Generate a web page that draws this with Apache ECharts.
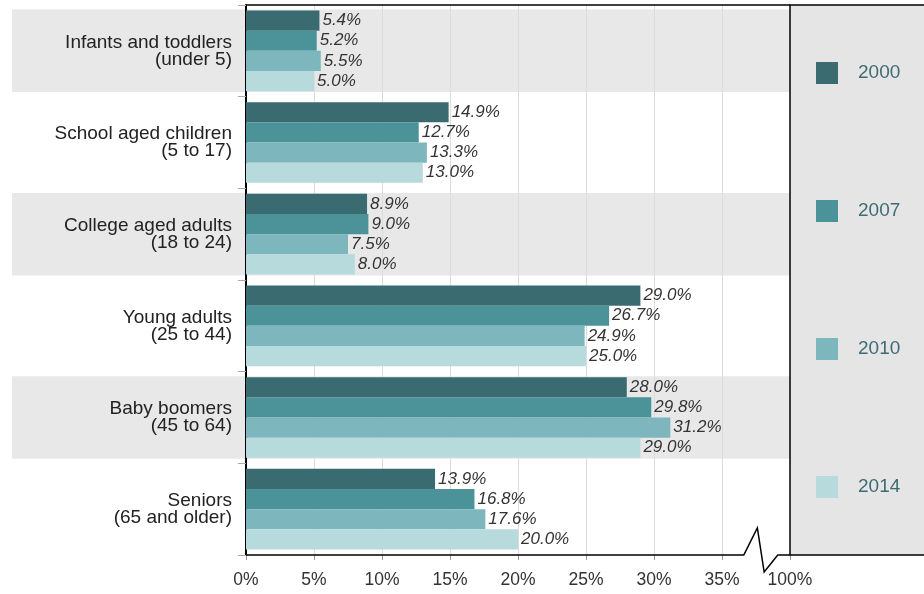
<!DOCTYPE html>
<html>
<head>
<meta charset="utf-8">
<script src="https://cdn.jsdelivr.net/npm/echarts@6/dist/echarts.min.js"></script>
<style>
  html, body { margin: 0; padding: 0; background: #fff; }
  #chart { width: 924px; height: 594px; }
</style>
</head>
<body>
<div id="chart"></div>
<script>
// age groups, top to bottom
var groups = [
  "Infants and toddlers\n(under 5)",
  "School aged children\n(5 to 17)",
  "College aged adults\n(18 to 24)",
  "Young adults\n(25 to 44)",
  "Baby boomers\n(45 to 64)",
  "Seniors\n(65 and older)"
];
var years = ["2000", "2007", "2010", "2014"];
var v2000 = [5.4, 14.9, 8.9, 29.0, 28.0, 13.9];
var v2007 = [5.2, 12.7, 9.0, 26.7, 29.8, 16.8];
var v2010 = [5.5, 13.3, 7.5, 24.9, 31.2, 17.6];
var v2014 = [5.0, 13.0, 8.0, 25.0, 29.0, 20.0];
var bandOn = [1, 0, 1, 0, 1, 0]; // shaded rows
var colors = ["#3a6b70", "#4b9399", "#7db7bd", "#b7dadc"];

var font = "'Liberation Sans', Arial, sans-serif";
var chart = echarts.init(document.getElementById("chart"));

function barSeries(name, data, color) {
  return {
    name: name,
    type: "bar",
    xAxisIndex: 1,
    yAxisIndex: 1,
    data: data,
    barGap: "0%",
    barCategoryGap: "12%",
    itemStyle: { color: color },
    label: {
      show: true,
      position: "right",
      distance: 3,
      fontFamily: font,
      fontSize: 17,
      fontStyle: "italic",
      color: "#333",
      formatter: function (p) { return p.value.toFixed(1) + "%"; }
    }
  };
}

var option = {
  animation: false,
  textStyle: { fontFamily: font },
  grid: [
    { left: 12, right: 134, top: 5, bottom: 39 },
    { left: 246, right: 134, top: 5, bottom: 39 }
  ],
  legend: {
    data: years,
    orient: "vertical",
    left: 816,
    top: 62,
    padding: 0,
    icon: "rect",
    itemWidth: 22,
    itemHeight: 22,
    itemGap: 116,
    textStyle: { fontSize: 19, color: "#3f6b74", padding: [0, 0, 0, 15] }
  },
  xAxis: [
    { gridIndex: 0, type: "value", min: 0, max: 1, show: false },
    {
      gridIndex: 1,
      type: "value",
      min: 0,
      max: 40,
      interval: 5,
      axisLine: { show: false },
      axisTick: { show: true, length: 5, lineStyle: { color: "#999" } },
      axisLabel: {
        fontSize: 17.5,
        color: "#333",
        margin: 16,
        formatter: function (v) { return v === 40 ? "100%" : v + "%"; }
      },
      splitLine: { show: true, lineStyle: { color: "#dcdcdc", width: 1 } }
    }
  ],
  yAxis: [
    { gridIndex: 0, type: "category", data: groups, inverse: true, show: false },
    {
      gridIndex: 1,
      type: "category",
      data: groups,
      inverse: true,
      axisLine: { show: true, lineStyle: { color: "#000", width: 2 } },
      axisTick: { show: true, length: 8, lineStyle: { color: "#aaa" } },
      axisLabel: {
        fontSize: 19,
        color: "#222",
        lineHeight: 17,
        align: "right",
        margin: 14,
        padding: [0, 0, 6, 0]
      }
    }
  ],
  series: [
    {
      name: "band",
      type: "bar",
      xAxisIndex: 0,
      yAxisIndex: 0,
      data: bandOn,
      barWidth: "90%",
      silent: true,
      z: -1,
      itemStyle: { color: "#e8e8e8" }
    },
    barSeries("2000", v2000, colors[0]),
    barSeries("2007", v2007, colors[1]),
    barSeries("2010", v2010, colors[2]),
    barSeries("2014", v2014, colors[3])
  ]
};
chart.setOption(option);

// frame, legend panel and axis break, placed from the axis scale
function px(x) { return chart.convertToPixel({ xAxisIndex: 1 }, x); }
var yTop = 5, yBot = 594 - 39;
var x0 = px(0), x40 = px(40);
chart.setOption({
  graphic: [
    {
      type: "rect",
      z: 1,
      shape: { x: x40, y: yTop, width: 924 - x40 + 4, height: yBot - yTop },
      style: { fill: "#e5e5e5", stroke: "#000", lineWidth: 1.5 }
    },
    {
      type: "line",
      z: 5,
      shape: { x1: x0, y1: yTop, x2: x40, y2: yTop },
      style: { stroke: "#000", lineWidth: 1.5 }
    },
    {
      type: "polyline",
      z: 5,
      shape: {
        points: [
          [x0, yBot], [px(36.6), yBot], [px(37.6), yBot - 27],
          [px(38.1), yBot + 17], [px(39.1), yBot], [x40, yBot]
        ]
      },
      style: { stroke: "#000", lineWidth: 1.5, fill: null }
    }
  ]
});
</script>
</body>
</html>
